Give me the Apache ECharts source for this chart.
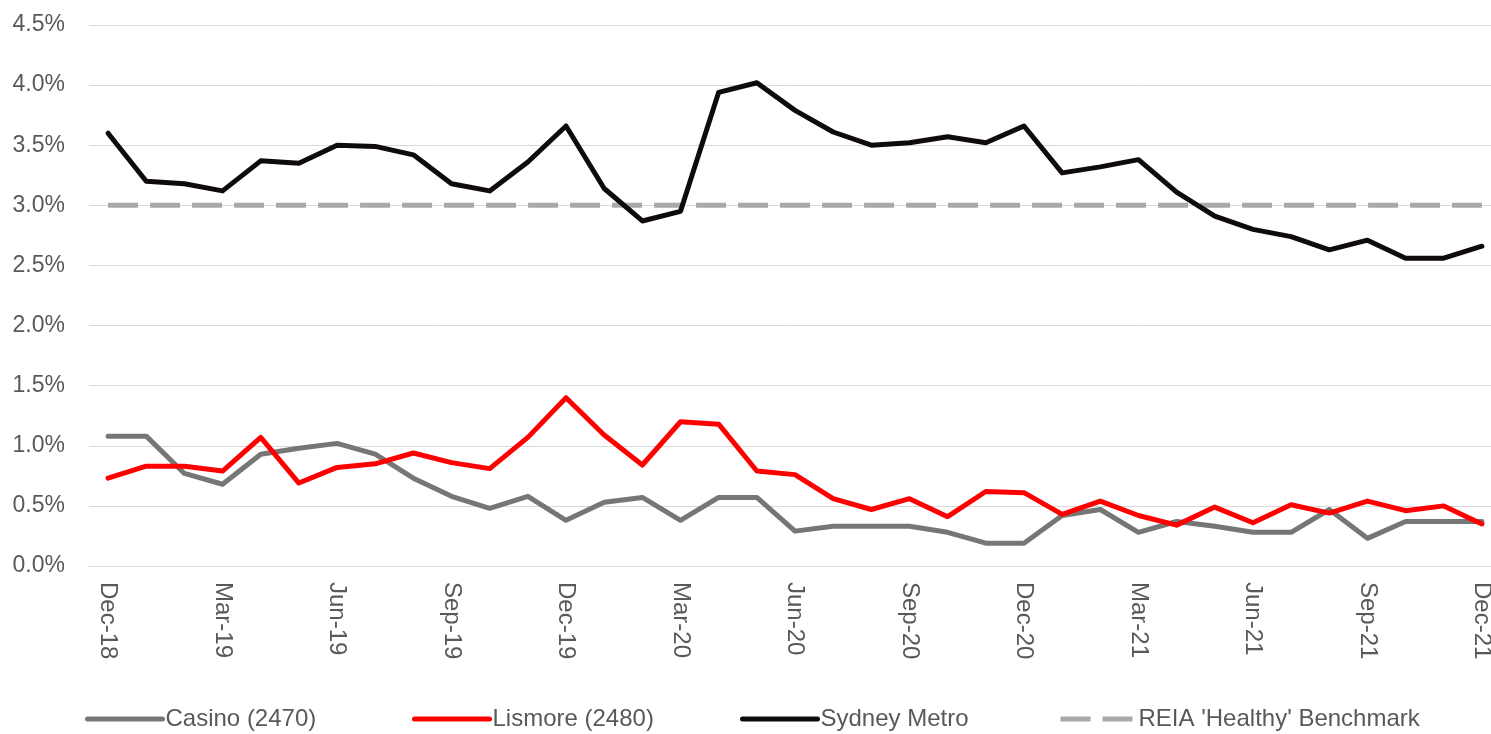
<!DOCTYPE html>
<html>
<head>
<meta charset="utf-8">
<script src="https://cdn.jsdelivr.net/npm/echarts@6/dist/echarts.min.js"></script>
<style>
  html, body { margin: 0; padding: 0; background: #fff; }
  #chart { width: 1491px; height: 734px; }
</style>
</head>
<body>
<div id="chart"></div>
<script>
// months Dec-18 .. Dec-21
const months = [
  "Dec-18", "Jan-19", "Feb-19", "Mar-19", "Apr-19", "May-19", "Jun-19", "Jul-19", "Aug-19",
  "Sep-19", "Oct-19", "Nov-19", "Dec-19", "Jan-20", "Feb-20", "Mar-20", "Apr-20", "May-20",
  "Jun-20", "Jul-20", "Aug-20", "Sep-20", "Oct-20", "Nov-20", "Dec-20", "Jan-21", "Feb-21",
  "Mar-21", "Apr-21", "May-21", "Jun-21", "Jul-21", "Aug-21", "Sep-21", "Oct-21", "Nov-21", "Dec-21"
];

// vacancy rate, %
const casino = [
  1.08, 1.08, 0.77, 0.68, 0.93, 0.98, 1.02, 0.93, 0.73, 0.58, 0.48, 0.58, 0.38,
  0.53, 0.57, 0.38, 0.57, 0.57, 0.29, 0.33, 0.33, 0.33, 0.28, 0.19, 0.19,
  0.42, 0.47, 0.28, 0.37, 0.33, 0.28, 0.28, 0.47, 0.23, 0.37, 0.37, 0.37
];
const lismore = [
  0.73, 0.83, 0.83, 0.79, 1.07, 0.69, 0.82, 0.85, 0.94, 0.86, 0.81, 1.07, 1.40,
  1.09, 0.84, 1.20, 1.18, 0.79, 0.76, 0.56, 0.47, 0.56, 0.41, 0.62, 0.61,
  0.43, 0.54, 0.42, 0.34, 0.49, 0.36, 0.51, 0.44, 0.54, 0.46, 0.50, 0.35
];
const sydney = [
  3.60, 3.20, 3.18, 3.12, 3.37, 3.35, 3.50, 3.49, 3.42, 3.18, 3.12, 3.36, 3.66,
  3.14, 2.87, 2.95, 3.94, 4.02, 3.79, 3.61, 3.50, 3.52, 3.57, 3.52, 3.66,
  3.27, 3.32, 3.38, 3.11, 2.91, 2.80, 2.74, 2.63, 2.71, 2.56, 2.56, 2.66
];
const benchmark = months.map(() => 3.0);

const legendNames = ["Casino (2470)", "Lismore (2480)", "Sydney Metro", "REIA 'Healthy' Benchmark"];

const textColor = "#595959";
const gridColor = "#d9d9d9";
const font = "'Liberation Sans', Arial, sans-serif";

let myChart = echarts.init(document.getElementById("chart"));

// one legend block per item so each sits where it does in the original
const legendLeft = [85, 412, 740, 1058];
const legends = legendNames.map((name, i) => ({
  data: [name],
  left: legendLeft[i],
  top: 707,
  padding: 0,
  itemWidth: 75,
  itemHeight: 26,
  itemStyle: { opacity: 0 },
  lineStyle: { width: 5 },
  textStyle: { color: textColor, fontSize: 24, fontFamily: font, padding: [0, 0, 0, -2] },
}));

myChart.setOption({
  animation: false,
  textStyle: { fontFamily: font },
  grid: {
    left: 89,
    top: 25,
    width: 1412,
    bottom: 168,
    outerBoundsMode: "none",
  },
  legend: legends,
  xAxis: {
    type: "category",
    data: months,
    boundaryGap: true,
    axisLine: { lineStyle: { color: gridColor, width: 1 } },
    axisTick: { interval: 2, length: 7, lineStyle: { color: gridColor } },
    axisLabel: {
      interval: 2,
      rotate: -90,
      margin: 16,
      color: textColor,
      fontSize: 24,
      fontFamily: font,
    },
  },
  yAxis: {
    type: "value",
    min: 0,
    max: 4.5,
    interval: 0.5,
    axisLine: { show: false },
    axisTick: { show: false },
    splitLine: { lineStyle: { color: gridColor, width: 1 } },
    axisLabel: {
      margin: 24,
      color: textColor,
      fontSize: 23,
      fontFamily: font,
      formatter: (v) => v.toFixed(1) + "%",
    },
  },
  series: [
    {
      name: "REIA 'Healthy' Benchmark",
      type: "line",
      data: benchmark,
      symbol: "none",
      color: "#a9a9ac",
      lineStyle: { width: 5, type: [30, 12], cap: "butt" },
      z: 1,
    },
    {
      name: "Casino (2470)",
      type: "line",
      data: casino,
      symbol: "none",
      color: "#767676",
      lineStyle: { width: 5, cap: "round", join: "round" },
      z: 2,
    },
    {
      name: "Lismore (2480)",
      type: "line",
      data: lismore,
      symbol: "none",
      color: "#ff0000",
      lineStyle: { width: 5, cap: "round", join: "round" },
      z: 3,
    },
    {
      name: "Sydney Metro",
      type: "line",
      data: sydney,
      symbol: "none",
      color: "#0f0b0b",
      lineStyle: { width: 5, cap: "round", join: "round" },
      z: 4,
    },
  ],
});
</script>
</body>
</html>
